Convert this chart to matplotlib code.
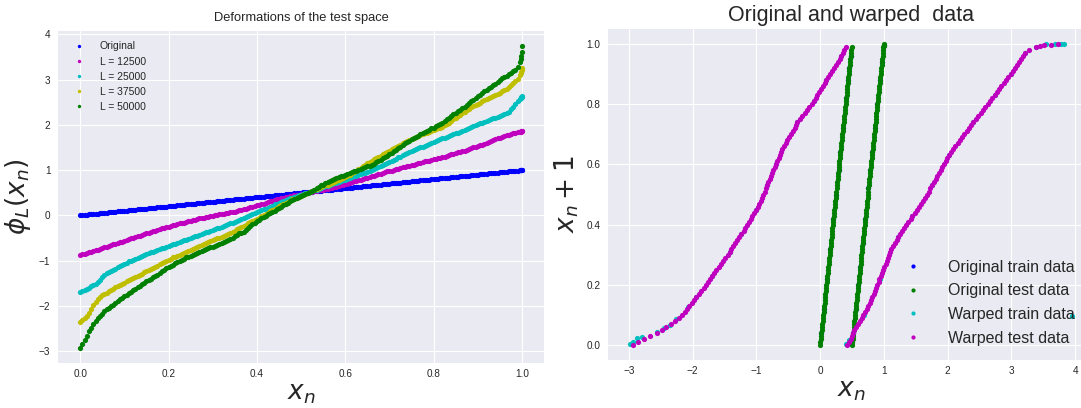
import matplotlib
matplotlib.use("Agg")
import matplotlib.pyplot as plt

# ---------------------------------------------------------------------------
# Test points x_n (rows of 20) and the value that follows each of them
# ---------------------------------------------------------------------------
x_n = [
    0.000, 0.005, 0.010, 0.015, 0.020, 0.025, 0.030, 0.035, 0.040, 0.045,
    0.050, 0.055, 0.060, 0.065, 0.070, 0.075, 0.080, 0.085, 0.090, 0.095,
    0.100, 0.105, 0.110, 0.115, 0.120, 0.125, 0.130, 0.135, 0.140, 0.145,
    0.150, 0.155, 0.160, 0.165, 0.170, 0.175, 0.180, 0.185, 0.190, 0.195,
    0.200, 0.205, 0.210, 0.215, 0.220, 0.225, 0.230, 0.235, 0.240, 0.245,
    0.250, 0.255, 0.260, 0.265, 0.270, 0.275, 0.280, 0.285, 0.290, 0.295,
    0.300, 0.305, 0.310, 0.315, 0.320, 0.325, 0.330, 0.335, 0.340, 0.345,
    0.350, 0.355, 0.360, 0.365, 0.370, 0.375, 0.380, 0.385, 0.390, 0.395,
    0.400, 0.405, 0.410, 0.415, 0.420, 0.425, 0.430, 0.435, 0.440, 0.445,
    0.450, 0.455, 0.460, 0.465, 0.470, 0.475, 0.480, 0.485, 0.490, 0.495,
    0.500, 0.505, 0.510, 0.515, 0.520, 0.525, 0.530, 0.535, 0.540, 0.545,
    0.550, 0.555, 0.560, 0.565, 0.570, 0.575, 0.580, 0.585, 0.590, 0.595,
    0.600, 0.605, 0.610, 0.615, 0.620, 0.625, 0.630, 0.635, 0.640, 0.645,
    0.650, 0.655, 0.660, 0.665, 0.670, 0.675, 0.680, 0.685, 0.690, 0.695,
    0.700, 0.705, 0.710, 0.715, 0.720, 0.725, 0.730, 0.735, 0.740, 0.745,
    0.750, 0.755, 0.760, 0.765, 0.770, 0.775, 0.780, 0.785, 0.790, 0.795,
    0.800, 0.805, 0.810, 0.815, 0.820, 0.825, 0.830, 0.835, 0.840, 0.845,
    0.850, 0.855, 0.860, 0.865, 0.870, 0.875, 0.880, 0.885, 0.890, 0.895,
    0.900, 0.905, 0.910, 0.915, 0.920, 0.925, 0.930, 0.935, 0.940, 0.945,
    0.950, 0.955, 0.960, 0.965, 0.970, 0.975, 0.980, 0.985, 0.990, 0.995,
    0.997, 0.998, 0.999, 1.000,
]

x_next = [
    0.00, 0.01, 0.02, 0.03, 0.04, 0.05, 0.06, 0.07, 0.08, 0.09,
    0.10, 0.11, 0.12, 0.13, 0.14, 0.15, 0.16, 0.17, 0.18, 0.19,
    0.20, 0.21, 0.22, 0.23, 0.24, 0.25, 0.26, 0.27, 0.28, 0.29,
    0.30, 0.31, 0.32, 0.33, 0.34, 0.35, 0.36, 0.37, 0.38, 0.39,
    0.40, 0.41, 0.42, 0.43, 0.44, 0.45, 0.46, 0.47, 0.48, 0.49,
    0.50, 0.51, 0.52, 0.53, 0.54, 0.55, 0.56, 0.57, 0.58, 0.59,
    0.60, 0.61, 0.62, 0.63, 0.64, 0.65, 0.66, 0.67, 0.68, 0.69,
    0.70, 0.71, 0.72, 0.73, 0.74, 0.75, 0.76, 0.77, 0.78, 0.79,
    0.80, 0.81, 0.82, 0.83, 0.84, 0.85, 0.86, 0.87, 0.88, 0.89,
    0.90, 0.91, 0.92, 0.93, 0.94, 0.95, 0.96, 0.97, 0.98, 0.99,
    0.00, 0.01, 0.02, 0.03, 0.04, 0.05, 0.06, 0.07, 0.08, 0.09,
    0.10, 0.11, 0.12, 0.13, 0.14, 0.15, 0.16, 0.17, 0.18, 0.19,
    0.20, 0.21, 0.22, 0.23, 0.24, 0.25, 0.26, 0.27, 0.28, 0.29,
    0.30, 0.31, 0.32, 0.33, 0.34, 0.35, 0.36, 0.37, 0.38, 0.39,
    0.40, 0.41, 0.42, 0.43, 0.44, 0.45, 0.46, 0.47, 0.48, 0.49,
    0.50, 0.51, 0.52, 0.53, 0.54, 0.55, 0.56, 0.57, 0.58, 0.59,
    0.60, 0.61, 0.62, 0.63, 0.64, 0.65, 0.66, 0.67, 0.68, 0.69,
    0.70, 0.71, 0.72, 0.73, 0.74, 0.75, 0.76, 0.77, 0.78, 0.79,
    0.80, 0.81, 0.82, 0.83, 0.84, 0.85, 0.86, 0.87, 0.88, 0.89,
    0.90, 0.91, 0.92, 0.93, 0.94, 0.95, 0.96, 0.97, 0.98, 0.99,
    0.994, 0.996, 0.998, 1.000,
]

# warped test points phi_L(x_n) for each deformation level L
phi_12500 = [
    -0.88, -0.86, -0.85, -0.83, -0.82, -0.80, -0.79, -0.77, -0.76, -0.74,
    -0.73, -0.71, -0.69, -0.68, -0.66, -0.64, -0.63, -0.61, -0.59, -0.58,
    -0.56, -0.54, -0.53, -0.51, -0.50, -0.48, -0.46, -0.45, -0.43, -0.42,
    -0.40, -0.38, -0.37, -0.35, -0.34, -0.32, -0.31, -0.29, -0.28, -0.26,
    -0.25, -0.24, -0.22, -0.21, -0.19, -0.18, -0.17, -0.16, -0.14, -0.13,
    -0.12, -0.11, -0.10, -0.08, -0.07, -0.06, -0.05, -0.04, -0.03, -0.02,
    -0.01, 0.00, 0.01, 0.02, 0.03, 0.04, 0.05, 0.06, 0.07, 0.07,
    0.08, 0.09, 0.11, 0.12, 0.13, 0.15, 0.16, 0.18, 0.19, 0.21,
    0.22, 0.23, 0.25, 0.26, 0.28, 0.29, 0.31, 0.32, 0.34, 0.35,
    0.36, 0.38, 0.39, 0.40, 0.41, 0.42, 0.43, 0.44, 0.45, 0.46,
    0.47, 0.48, 0.49, 0.50, 0.51, 0.52, 0.53, 0.54, 0.55, 0.56,
    0.57, 0.58, 0.59, 0.60, 0.61, 0.62, 0.63, 0.64, 0.66, 0.67,
    0.69, 0.70, 0.72, 0.73, 0.75, 0.76, 0.78, 0.79, 0.80, 0.82,
    0.83, 0.85, 0.86, 0.88, 0.89, 0.91, 0.92, 0.94, 0.95, 0.97,
    0.98, 0.99, 1.01, 1.02, 1.03, 1.05, 1.06, 1.07, 1.08, 1.10,
    1.11, 1.12, 1.14, 1.15, 1.16, 1.17, 1.19, 1.20, 1.21, 1.22,
    1.24, 1.25, 1.26, 1.27, 1.29, 1.30, 1.32, 1.33, 1.35, 1.36,
    1.37, 1.39, 1.40, 1.42, 1.43, 1.45, 1.46, 1.48, 1.50, 1.51,
    1.53, 1.55, 1.56, 1.58, 1.60, 1.62, 1.64, 1.66, 1.68, 1.70,
    1.72, 1.73, 1.75, 1.77, 1.78, 1.80, 1.81, 1.83, 1.84, 1.85,
    1.85, 1.86, 1.86, 1.86,
]

phi_25000 = [
    -1.69, -1.67, -1.65, -1.63, -1.60, -1.57, -1.54, -1.51, -1.47, -1.42,
    -1.36, -1.32, -1.28, -1.26, -1.23, -1.21, -1.18, -1.15, -1.13, -1.10,
    -1.07, -1.05, -1.02, -1.00, -0.98, -0.96, -0.94, -0.92, -0.90, -0.88,
    -0.86, -0.84, -0.82, -0.80, -0.78, -0.77, -0.75, -0.73, -0.72, -0.70,
    -0.68, -0.66, -0.64, -0.63, -0.61, -0.59, -0.57, -0.55, -0.54, -0.52,
    -0.50, -0.48, -0.46, -0.45, -0.43, -0.41, -0.39, -0.37, -0.36, -0.34,
    -0.32, -0.30, -0.28, -0.27, -0.25, -0.23, -0.21, -0.19, -0.18, -0.16,
    -0.14, -0.12, -0.10, -0.08, -0.06, -0.04, -0.02, 0.00, 0.02, 0.05,
    0.07, 0.09, 0.11, 0.13, 0.15, 0.17, 0.19, 0.21, 0.24, 0.26,
    0.28, 0.30, 0.32, 0.34, 0.36, 0.38, 0.39, 0.41, 0.43, 0.44,
    0.46, 0.47, 0.49, 0.50, 0.52, 0.53, 0.55, 0.57, 0.58, 0.60,
    0.62, 0.64, 0.65, 0.67, 0.69, 0.71, 0.72, 0.74, 0.76, 0.77,
    0.79, 0.81, 0.82, 0.84, 0.86, 0.87, 0.89, 0.91, 0.93, 0.94,
    0.96, 0.98, 1.00, 1.02, 1.04, 1.06, 1.08, 1.11, 1.13, 1.16,
    1.18, 1.20, 1.23, 1.25, 1.28, 1.30, 1.33, 1.35, 1.38, 1.40,
    1.42, 1.44, 1.46, 1.48, 1.50, 1.52, 1.54, 1.56, 1.58, 1.60,
    1.62, 1.64, 1.66, 1.68, 1.70, 1.72, 1.74, 1.75, 1.77, 1.79,
    1.81, 1.83, 1.85, 1.87, 1.89, 1.91, 1.93, 1.95, 1.97, 1.99,
    2.01, 2.03, 2.05, 2.07, 2.08, 2.10, 2.12, 2.14, 2.16, 2.18,
    2.19, 2.21, 2.23, 2.26, 2.29, 2.34, 2.39, 2.45, 2.52, 2.58,
    2.60, 2.61, 2.62, 2.63,
]

phi_37500 = [
    -2.35, -2.32, -2.28, -2.22, -2.15, -2.06, -1.99, -1.92, -1.86, -1.81,
    -1.77, -1.74, -1.71, -1.68, -1.65, -1.62, -1.59, -1.56, -1.54, -1.52,
    -1.49, -1.46, -1.44, -1.41, -1.39, -1.36, -1.34, -1.31, -1.29, -1.26,
    -1.24, -1.21, -1.19, -1.16, -1.14, -1.11, -1.08, -1.06, -1.03, -1.00,
    -0.98, -0.96, -0.93, -0.91, -0.89, -0.87, -0.85, -0.83, -0.80, -0.78,
    -0.76, -0.74, -0.72, -0.70, -0.68, -0.66, -0.64, -0.62, -0.59, -0.57,
    -0.55, -0.53, -0.51, -0.49, -0.47, -0.45, -0.43, -0.41, -0.38, -0.36,
    -0.34, -0.31, -0.28, -0.26, -0.24, -0.21, -0.18, -0.15, -0.13, -0.10,
    -0.08, -0.05, -0.02, 0.01, 0.03, 0.06, 0.09, 0.12, 0.14, 0.17,
    0.20, 0.23, 0.26, 0.28, 0.30, 0.32, 0.35, 0.37, 0.39, 0.41,
    0.43, 0.45, 0.47, 0.49, 0.51, 0.53, 0.56, 0.58, 0.60, 0.62,
    0.64, 0.66, 0.68, 0.70, 0.72, 0.74, 0.76, 0.78, 0.80, 0.82,
    0.85, 0.87, 0.90, 0.93, 0.96, 0.99, 1.02, 1.05, 1.09, 1.12,
    1.15, 1.18, 1.21, 1.24, 1.27, 1.29, 1.32, 1.35, 1.37, 1.40,
    1.43, 1.46, 1.48, 1.51, 1.54, 1.56, 1.59, 1.61, 1.64, 1.66,
    1.69, 1.71, 1.73, 1.75, 1.77, 1.79, 1.81, 1.83, 1.85, 1.86,
    1.88, 1.90, 1.92, 1.94, 1.96, 1.99, 2.02, 2.05, 2.08, 2.12,
    2.15, 2.19, 2.22, 2.26, 2.29, 2.33, 2.36, 2.39, 2.42, 2.44,
    2.47, 2.49, 2.52, 2.54, 2.57, 2.59, 2.62, 2.64, 2.66, 2.69,
    2.71, 2.74, 2.77, 2.80, 2.84, 2.88, 2.92, 2.97, 3.02, 3.10,
    3.14, 3.17, 3.21, 3.25,
]

phi_50000 = [
    -2.93, -2.85, -2.76, -2.66, -2.56, -2.48, -2.41, -2.34, -2.28, -2.22,
    -2.17, -2.12, -2.08, -2.05, -2.01, -1.98, -1.94, -1.90, -1.86, -1.82,
    -1.79, -1.76, -1.72, -1.69, -1.66, -1.63, -1.59, -1.56, -1.52, -1.49,
    -1.45, -1.42, -1.40, -1.37, -1.34, -1.31, -1.27, -1.24, -1.20, -1.17,
    -1.15, -1.12, -1.09, -1.06, -1.04, -1.01, -0.98, -0.96, -0.93, -0.91,
    -0.89, -0.87, -0.85, -0.83, -0.81, -0.79, -0.77, -0.75, -0.73, -0.71,
    -0.69, -0.67, -0.65, -0.63, -0.61, -0.59, -0.56, -0.54, -0.52, -0.49,
    -0.46, -0.43, -0.40, -0.38, -0.36, -0.32, -0.28, -0.24, -0.20, -0.17,
    -0.13, -0.10, -0.07, -0.04, -0.01, 0.02, 0.05, 0.07, 0.10, 0.13,
    0.16, 0.19, 0.22, 0.25, 0.28, 0.31, 0.33, 0.36, 0.38, 0.41,
    0.43, 0.46, 0.48, 0.50, 0.52, 0.54, 0.57, 0.60, 0.63, 0.66,
    0.68, 0.71, 0.73, 0.76, 0.78, 0.80, 0.82, 0.84, 0.86, 0.88,
    0.90, 0.92, 0.93, 0.95, 0.97, 0.99, 1.01, 1.03, 1.05, 1.07,
    1.08, 1.10, 1.12, 1.14, 1.17, 1.20, 1.23, 1.26, 1.28, 1.32,
    1.35, 1.38, 1.42, 1.45, 1.49, 1.52, 1.55, 1.59, 1.62, 1.65,
    1.68, 1.71, 1.73, 1.76, 1.79, 1.82, 1.84, 1.87, 1.89, 1.92,
    1.94, 1.97, 1.99, 2.02, 2.05, 2.09, 2.12, 2.16, 2.19, 2.23,
    2.26, 2.30, 2.33, 2.37, 2.40, 2.44, 2.48, 2.52, 2.55, 2.59,
    2.63, 2.67, 2.70, 2.74, 2.77, 2.81, 2.84, 2.88, 2.91, 2.95,
    2.99, 3.03, 3.06, 3.09, 3.12, 3.15, 3.18, 3.21, 3.27, 3.38,
    3.45, 3.52, 3.62, 3.74,
]

series_labels = ["Original", "L = 12500", "L = 25000", "L = 37500", "L = 50000"]
series_colors = ["b", "m", "c", "y", "g"]

# ---------------------------------------------------------------------------
# Training points (original and warped)
# ---------------------------------------------------------------------------
train_x = [0.02, 0.06, 0.11, 0.16, 0.21, 0.25, 0.29, 0.32, 0.36, 0.41,
           0.44, 0.46, 0.48, 0.52, 0.56, 0.60, 0.63, 0.67, 0.71, 0.76,
           0.79, 0.82, 0.86, 0.90, 0.94, 0.97]
train_next = [0.04, 0.12, 0.22, 0.32, 0.42, 0.50, 0.58, 0.64, 0.72, 0.82,
              0.88, 0.92, 0.96, 0.04, 0.12, 0.20, 0.26, 0.34, 0.42, 0.52,
              0.58, 0.64, 0.72, 0.80, 0.88, 0.94]

warped_train_x = [-2.98, -2.93, -2.87, -2.79, -2.55, -2.45, -2.35, -2.26, -2.07,
                  -1.94, -1.69, -1.42, -1.24, -1.01, -0.83, -0.69, -0.36, -0.10,
                  0.10, 0.33, 0.41, 0.45, 0.69, 0.94, 1.23, 1.45, 1.76, 2.02,
                  2.40, 2.74, 3.00, 3.22, 3.38, 3.55, 3.68, 3.78, 3.83, 3.95]
warped_train_next = [0.002, 0.01, 0.022, 0.028, 0.044, 0.055, 0.066, 0.085, 0.125,
                     0.16, 0.23, 0.31, 0.37, 0.45, 0.53, 0.60, 0.74, 0.81,
                     0.88, 0.96, 0.003, 0.015, 0.10, 0.22, 0.36, 0.43, 0.53, 0.63,
                     0.74, 0.83, 0.90, 0.97, 0.99, 1.00, 1.00, 1.00, 1.00, 0.097]

# ---------------------------------------------------------------------------
plt.style.use("seaborn-v0_8-darkgrid")
plt.rcParams["font.family"] = ["Liberation Sans", "DejaVu Sans"]
plt.rcParams["xtick.labelsize"] = 7.2
plt.rcParams["ytick.labelsize"] = 7.2
plt.rcParams["xtick.major.pad"] = 4.5
plt.rcParams["ytick.major.pad"] = 5.5

fig = plt.figure(figsize=(10.81, 4.08), dpi=100)
ax1 = fig.add_axes([0.0537, 0.1103, 0.4496, 0.8137])
ax2 = fig.add_axes([0.5624, 0.1176, 0.4496, 0.8113])

dot = dict(linestyle="none", marker=".", markersize=7.5, markeredgewidth=0)

# Left: the warping functions
curves = [x_n, phi_12500, phi_25000, phi_37500, phi_50000]
for values, color, label in zip(curves, series_colors, series_labels):
    ax1.plot(x_n, values, color=color, label=label, **dot)

ax1.set_title("Deformations of the test space", fontsize=9.3, color=".15", pad=7)
ax1.set_xlabel(r"$x_n$", fontsize=19, labelpad=2)
ax1.set_ylabel(r"$\phi_L(x_n)$", fontsize=19, labelpad=4)
ax1.set_xticks([0.0, 0.2, 0.4, 0.6, 0.8, 1.0])
ax1.set_yticks([-3, -2, -1, 0, 1, 2, 3, 4])
ax1.legend(loc="upper left", fontsize=7.5, markerscale=0.65, numpoints=1,
           frameon=False, handletextpad=1.0, borderaxespad=0.6, labelspacing=0.49)

# Right: sequence pairs before and after warping
ax2.plot(train_x, train_next, color="b", label="Original train data", **dot)
ax2.plot(x_n, x_next, color="g", label="Original test data", **dot)
ax2.plot(warped_train_x, warped_train_next, color="c", label="Warped train data", **dot)
ax2.plot(phi_50000, x_next, color="m", label="Warped test data", **dot)

ax2.set_title("Original and warped  data", fontsize=15.5, color=".15")
ax2.set_xlabel(r"$x_n$", fontsize=19, labelpad=2)
ax2.set_ylabel(r"$x_n + 1$", fontsize=19, labelpad=4)
ax2.set_xticks([-3, -2, -1, 0, 1, 2, 3, 4])
ax2.set_yticks([0.0, 0.2, 0.4, 0.6, 0.8, 1.0])
ax2.legend(loc="lower right", fontsize=11.5, markerscale=0.8, numpoints=1,
           frameon=False, handletextpad=1.2, labelspacing=0.54,
           bbox_to_anchor=(0.99, 0.0))

fig.savefig("out.png", dpi=100)
